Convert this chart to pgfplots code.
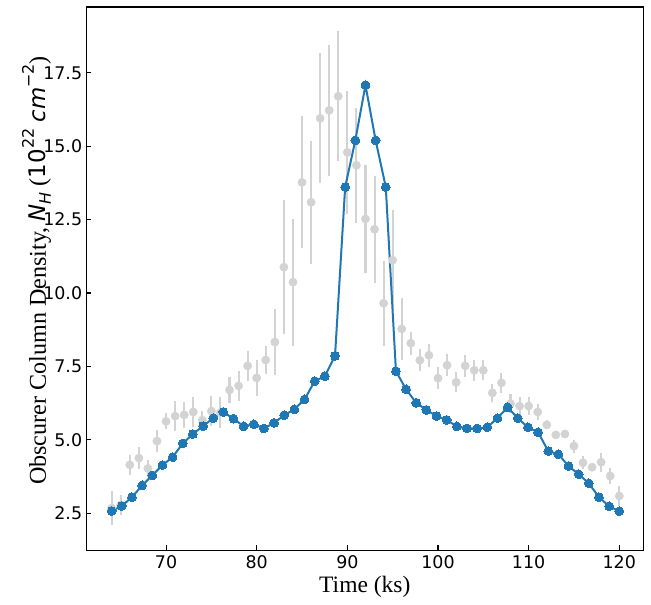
\documentclass[border=0pt]{standalone}
\usepackage{fontspec}
\setmainfont{Liberation Serif}
\newfontfamily\djv{DejaVu Sans}
\usepackage{pgfplots}
\usepackage{pgfplotstable}
\pgfplotsset{compat=1.18}
\definecolor{mplblue}{HTML}{1F77B4}
\definecolor{ltgray}{HTML}{D3D3D3}
% sub/superscripts for the mathtext-like part of the y label
\newcommand{\msub}[1]{\raisebox{-0.2em}{\fontsize{16}{18}\selectfont #1}}
\newcommand{\msup}[1]{\raisebox{0.5em}{\fontsize{16}{18}\selectfont #1}}

% observed points (gray, with error bars)
\pgfplotstableread{
x y e
64 2.68 0.57
65 2.78 0.34
66 4.15 0.35
67 4.38 0.37
68 4.03 0.28
69 4.96 0.37
70 5.63 0.27
71 5.81 0.52
72 5.85 0.44
73 5.95 0.51
74 5.67 0.32
75 5.98 0.52
76 5.93 0.52
77 6.70 0.44
78 6.84 0.51
79 7.52 0.52
80 7.11 0.60
81 7.72 0.48
82 8.33 1.12
83 10.88 2.29
84 10.37 2.16
85 13.77 2.25
86 13.09 2.10
87 15.95 2.22
88 16.22 2.24
89 16.70 2.21
90 14.79 2.10
91 14.35 1.96
92 12.52 1.85
93 12.17 1.83
94 9.65 1.45
95 11.12 1.70
96 8.78 1.06
97 8.29 0.39
98 7.71 0.37
99 7.88 0.39
100 7.10 0.37
101 7.54 0.38
102 6.96 0.34
103 7.52 0.37
104 7.37 0.35
105 7.37 0.34
106 6.60 0.31
107 6.94 0.35
108 6.23 0.33
109 6.15 0.30
110 6.15 0.30
111 5.95 0.27
112 5.51 0.15
113 5.17 0.12
114 5.20 0.15
115 4.79 0.22
116 4.22 0.22
117 4.07 0.12
118 4.24 0.33
119 3.77 0.28
120 3.09 0.33
}\obsdata

% model curve (blue)
\pgfplotstableread{
x y
64 2.58
65.12 2.75
66.24 3.05
67.36 3.45
68.48 3.79
69.6 4.14
70.72 4.41
71.84 4.88
72.96 5.20
74.08 5.47
75.2 5.74
76.32 5.95
77.44 5.72
78.56 5.46
79.68 5.53
80.8 5.39
81.92 5.58
83.04 5.84
84.16 6.04
85.28 6.38
86.4 7.00
87.52 7.17
88.64 7.86
89.76 13.61
90.88 15.20
92 17.08
93.12 15.20
94.24 13.61
95.36 7.34
96.48 6.72
97.6 6.26
98.72 6.02
99.84 5.81
100.96 5.68
102.08 5.46
103.2 5.39
104.32 5.39
105.44 5.43
106.56 5.74
107.68 6.11
108.8 5.74
109.92 5.43
111.04 5.26
112.16 4.62
113.28 4.51
114.4 4.11
115.52 3.83
116.64 3.52
117.76 3.05
118.88 2.74
120 2.57
}\modeldata

\begin{document}
\begin{tikzpicture}
\begin{axis}[
  scale only axis, width=557bp, height=543.3bp,
  xmin=61.2, xmax=122.65, ymin=1.24, ymax=19.74,
  xtick={70,80,...,120}, ytick={2.5,5,...,17.5},
  xtick pos=left, ytick pos=left,
  tick align=inside, major tick length=4.9bp,
  every tick/.style={black, line width=1.1bp},
  axis line style={black, line width=1.1bp},
  /pgf/number format/assume math mode=true,
  tick label style={font=\djv\fontsize{17.5}{20}\selectfont, inner sep=0pt},
  xticklabel style={yshift=-5bp},
  yticklabel style={xshift=-4bp, /pgf/number format/.cd, fixed, fixed zerofill, precision=1},
  every axis x label/.style={at={(axis description cs:0.5,-0.0768)}, anchor=base,
    font=\fontsize{23.6}{28}\selectfont},
  every axis y label/.style={at={(axis description cs:-0.0724,0.515)}, rotate=90, anchor=base,
    font=\fontsize{24.2}{28}\selectfont},
  xlabel={Time (ks)},
  ylabel={Obscurer Column Density, {\djv\fontsize{23}{28}\selectfont\itshape N}\msub{\djv\itshape H} ({\djv\fontsize{23}{28}\selectfont 10}\msup{\djv 22} {\djv\fontsize{23}{28}\selectfont\itshape cm}\msup{\djv −2})},
]
\addplot[only marks, mark=*, mark size=4.17bp, color=ltgray,
  mark options={fill=ltgray, draw=ltgray},
  error bars/.cd, y dir=both, y explicit, error mark=none,
  error bar style={line width=2.08bp, ltgray}]
  table[x=x, y=y, y error=e]{\obsdata};
\addplot[mplblue, line width=2bp, mark=*, mark size=4.4bp,
  mark options={fill=mplblue, draw=mplblue, line width=0pt}]
  table[x=x, y=y]{\modeldata};
\end{axis}
\pgfresetboundingbox
\path (current axis.south west) ++(-86.3bp,-54.7bp) rectangle ++(651bp,605bp);
\end{tikzpicture}
\end{document}
